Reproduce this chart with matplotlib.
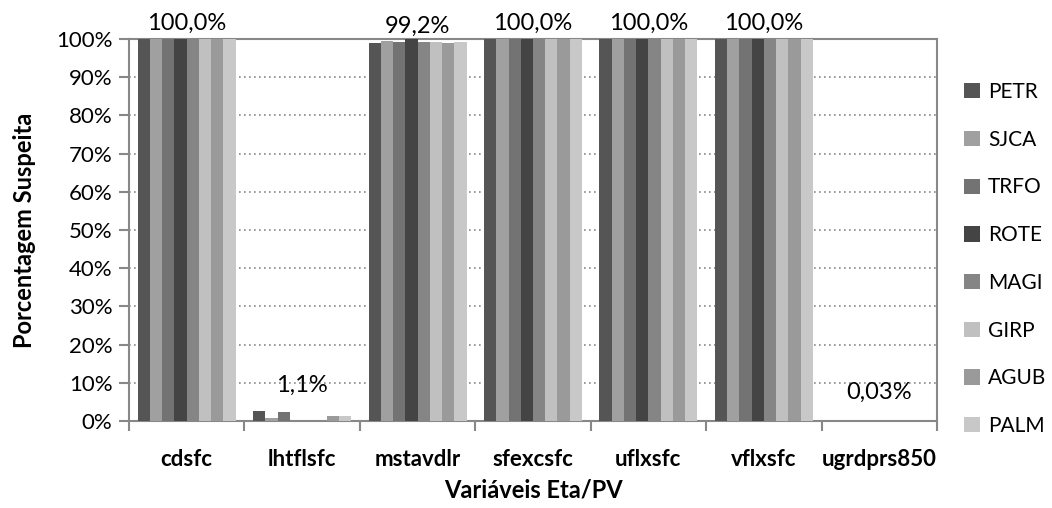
import matplotlib
matplotlib.use('Agg')
import matplotlib.pyplot as plt
import numpy as np

plt.rcParams['font.family'] = ['Lato', 'DejaVu Sans']

categories = ['cdsfc', 'lhtflsfc', 'mstavdlr', 'sfexcsfc', 'uflxsfc', 'vflxsfc', 'ugrdprs850']
stations = ['PETR', 'SJCA', 'TRFO', 'ROTE', 'MAGI', 'GIRP', 'AGUB', 'PALM']
colors = ['#555555', '#a0a0a0', '#737373', '#444444', '#858585', '#c0c0c0', '#9a9a9a', '#c8c8c8']

# percent suspect per station for each variable
values = {
    'PETR': [100, 2.7, 99.0, 100, 100, 100, 0.03],
    'SJCA': [100, 0.9, 99.4, 100, 100, 100, 0.03],
    'TRFO': [100, 2.3, 99.2, 100, 100, 100, 0.03],
    'ROTE': [100, 0.0, 100, 100, 100, 100, 0.03],
    'MAGI': [100, 0.0, 99.2, 100, 100, 100, 0.03],
    'GIRP': [100, 0.0, 99.2, 100, 100, 100, 0.03],
    'AGUB': [100, 1.2, 98.9, 100, 100, 100, 0.03],
    'PALM': [100, 1.2, 99.2, 100, 100, 100, 0.03],
}
mean_labels = ['100,0%', '1,1%', '99,2%', '100,0%', '100,0%', '100,0%', '0,03%']
mean_values = [100, 1.1, 99.2, 100, 100, 100, 0.03]
label_offsets = [4, 15, 4, 4, 4, 4, 13]  # points above value

fig = plt.figure(figsize=(10.52, 5.08), dpi=100)
ax = fig.add_axes([129/1052, 1 - 421/508, (937-129)/1052, (421-39)/508])

x = np.arange(len(categories))
width = 0.106
for i, st in enumerate(stations):
    ax.bar(x + (i - 3.5) * width, values[st], width, color=colors[i], label=st, zorder=3)

for xi, v, lab, off in zip(x, mean_values, mean_labels, label_offsets):
    ax.annotate(lab, (xi, v), xytext=(0, off), textcoords='offset points',
                ha='center', va='bottom', fontsize=17, zorder=4)

ax.set_xlim(-0.5, len(categories) - 0.5)
ax.set_ylim(0, 100)
ax.set_yticks(np.arange(0, 101, 10))
ax.set_yticklabels([f'{t}%' for t in range(0, 101, 10)], fontsize=16)
ax.set_xticks(x)
ax.set_xticklabels(categories, fontsize=16, fontweight='bold')
ax.set_xticks(np.arange(-0.5, len(categories)), minor=True)
ax.tick_params(axis='x', which='major', length=0, pad=20)
ax.tick_params(axis='x', which='minor', length=7, width=1.5, color='#888888', direction='out')
ax.tick_params(axis='y', length=7, width=1.5, color='#888888', direction='out', pad=5)

ax.yaxis.grid(True, linestyle=(0, (1, 2)), color='#888888', linewidth=1.2, zorder=0)
for s in ax.spines.values():
    s.set_color('#888888')
    s.set_linewidth(1.5)

ax.set_xlabel('Variáveis Eta/PV', fontsize=17, fontweight='bold', labelpad=6)
ax.set_ylabel('Porcentagem Suspeita', fontsize=17, fontweight='bold', labelpad=14)

fig.legend(loc='center left', bbox_to_anchor=(964/1052, 1 - 259/508), frameon=False,
           fontsize=15, handlelength=0.75, handleheight=0.75, handletextpad=0.4,
           labelspacing=1.33, borderaxespad=0, borderpad=0)

fig.savefig('out.png', dpi=100)
